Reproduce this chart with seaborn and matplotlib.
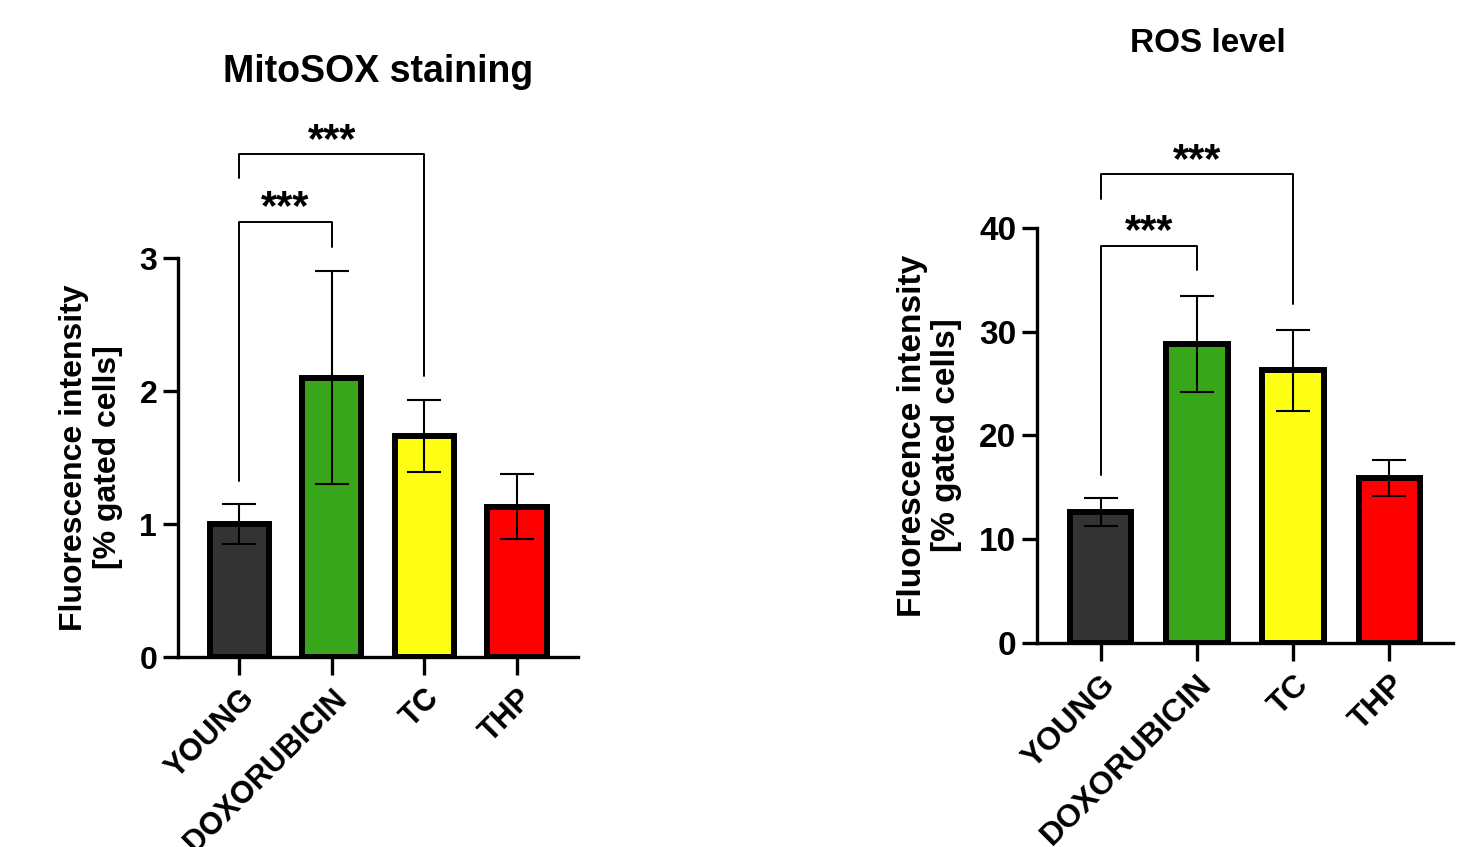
import matplotlib
matplotlib.use("Agg")
import matplotlib.pyplot as plt
import seaborn as sns
import pandas as pd
import numpy as np

sns.set_theme(style="ticks")
plt.rcParams['font.family'] = ['Liberation Sans', 'DejaVu Sans']
plt.rcParams['font.weight'] = 'bold'
plt.rcParams['text.color'] = 'black'
plt.rcParams['axes.labelcolor'] = 'black'
plt.rcParams['xtick.color'] = 'black'
plt.rcParams['ytick.color'] = 'black'

categories = ["YOUNG", "DOXORUBICIN", "TC", "THP"]
colors = ["#333333", "#37a61a", "#ffff14", "#fe0000"]

mito_mean = [1.00, 2.10, 1.66, 1.13]
mito_sd = [0.15, 0.80, 0.27, 0.245]
ros_mean = [12.6, 28.8, 26.3, 15.9]
ros_sd = [1.35, 4.6, 3.9, 1.7]

mito_ticks = [0, 1, 2, 3]
ros_ticks = [0, 10, 20, 30, 40]

# brackets: (left group, right group, bar height, left leg end, right leg end, star y)
mito_brackets = [(0, 1, 3.27, 1.32, 3.08, 3.29), (0, 2, 3.78, 3.60, 2.11, 3.80)]
ros_brackets = [(0, 1, 38.3, 16.2, 35.9, 38.5), (0, 2, 45.2, 42.8, 32.7, 45.4)]

ylabel = "Fluorescence intensity\n[% gated cells]"

fig = plt.figure(figsize=(14.68, 8.47), dpi=100)
ax1 = fig.add_axes([0.1213, 0.2243, 0.2725, 0.471])
ax2 = fig.add_axes([0.7064, 0.2409, 0.2834, 0.490])


def draw(ax, means, sds, ticks, brackets, title, title_x, title_y, fs, tfs):
    df = pd.DataFrame({"group": categories, "value": means})
    sns.barplot(data=df, x="group", y="value", hue="group", palette=colors,
                saturation=1, legend=False, width=0.64, edgecolor="black",
                linewidth=4.3, errorbar=None, ax=ax, zorder=2)
    ax.errorbar(np.arange(len(categories)), means, yerr=sds, fmt="none",
                ecolor="black", elinewidth=1.5, capsize=12, capthick=1.5,
                zorder=5)
    ax.set_xlim(-0.66, len(categories) - 1 + 0.66)
    ax.set_ylim(ticks[0], ticks[-1])
    ax.set_yticks(ticks)
    ax.set_yticklabels([str(t) for t in ticks], fontsize=fs, fontweight="bold")
    ax.set_xticks(np.arange(len(categories)))
    ax.set_xticklabels(categories, rotation=45, ha="right",
                       rotation_mode="anchor", fontsize=fs - 1,
                       fontweight="bold")
    ax.set_xlabel("")
    ax.set_ylabel(ylabel, fontsize=fs, fontweight="bold", labelpad=12,
                  linespacing=1.15)
    for s in ["top", "right"]:
        ax.spines[s].set_visible(False)
    for s in ["left", "bottom"]:
        ax.spines[s].set_linewidth(2.4)
        ax.spines[s].set_color("black")
    ax.tick_params(axis="y", length=11, width=2.4, pad=4)
    ax.tick_params(axis="x", length=13, width=2.4, pad=6)
    for (a, b, h, la, lb, sy) in brackets:
        ax.plot([a, a, b, b], [la, h, h, lb], color="black", lw=1.4,
                clip_on=False, zorder=6)
        ax.text((a + b) / 2, sy, "***", ha="center", va="baseline",
                fontsize=30, fontweight="bold", clip_on=False)
    ax.text(title_x, title_y, title, transform=ax.transAxes, ha="center",
            va="center", fontsize=tfs, fontweight="bold")


draw(ax1, mito_mean, mito_sd, mito_ticks, mito_brackets, "MitoSOX staining",
     0.5, 1.467, 23, 27)
draw(ax2, ros_mean, ros_sd, ros_ticks, ros_brackets, "ROS level",
     0.41, 1.445, 24, 24)

fig.savefig("out.png", dpi=100)
